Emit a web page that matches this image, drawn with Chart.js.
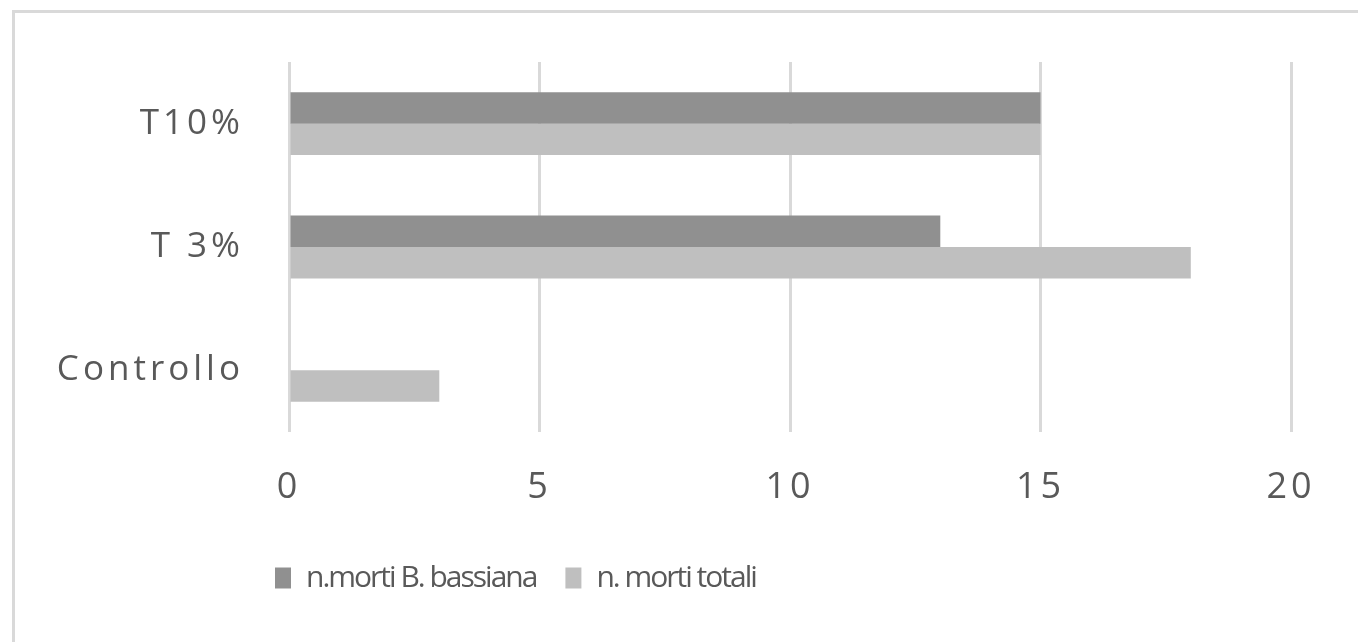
<!DOCTYPE html>
<html lang="it">
<head>
<meta charset="utf-8">
<title>Mortalità</title>
<script src="https://cdn.jsdelivr.net/npm/chart.js@4"></script>
<style>
    html, body { margin: 0; padding: 0; background: #ffffff; overflow: hidden; }
    #contenedor { position: relative; width: 1358px; height: 642px; }
    #marco {
        position: absolute; left: 12px; top: 10px; right: -10px; bottom: -10px;
        border-top: 3px solid #d9d9d9; border-left: 3px solid #d9d9d9;
        pointer-events: none;
    }
</style>
</head>
<body>
<div id="contenedor">
    <canvas id="grafico" width="1358" height="642"></canvas>
    <div id="marco"></div>
</div>
<script>
// Datos del gráfico
const categorias = ['T10%', 'T 3%', 'Controllo'];
const mortiBassiana = [15, 13, 0];
const mortiTotali = [15, 18, 3];
const ticksX = [0, 5, 10, 15, 20];

const colorTexto = '#595959';

// espaciado de letras: negativo para la leyenda, positivo para las etiquetas de los ejes
const espaciado = {
    id: 'espaciado',
    beforeUpdate(chart) { chart.ctx.letterSpacing = '-2px'; },
    beforeDraw(chart) { chart.ctx.letterSpacing = '-2px'; },
    afterDatasetsDraw(chart) { chart.ctx.letterSpacing = '4px'; },
    afterDraw(chart) { chart.ctx.letterSpacing = '0px'; }
};

// mover la leyenda hacia la izquierda, como en el original
const posLeyenda = {
    id: 'posLeyenda',
    afterLayout(chart) {
        if (chart.legend) chart.legend.left = 246;
    }
};

const ctx = document.getElementById('grafico').getContext('2d');

new Chart(ctx, {
    type: 'bar',
    data: {
        labels: categorias,
        datasets: [
            {
                label: 'n.morti B. bassiana',
                data: mortiBassiana,
                backgroundColor: '#909090',
                borderWidth: 0,
                categoryPercentage: 0.51,
                barPercentage: 1
            },
            {
                label: 'n. morti totali',
                data: mortiTotali,
                backgroundColor: '#bfbfbf',
                borderWidth: 0,
                categoryPercentage: 0.51,
                barPercentage: 1
            }
        ]
    },
    options: {
        indexAxis: 'y',
        responsive: false,
        devicePixelRatio: 1,
        animation: false,
        layout: {
            padding: { left: 0, right: 67, top: 62, bottom: 39 }
        },
        scales: {
            x: {
                min: 0,
                max: 20,
                afterBuildTicks: function (scale) {
                    scale.ticks = ticksX.map(v => ({ value: v }));
                },
                afterFit: function (scale) { scale.height = 102; },
                grid: { color: '#d9d9d9', lineWidth: 3, drawTicks: false },
                border: { display: false },
                ticks: {
                    z: 1,
                    padding: 34,
                    color: colorTexto,
                    font: { family: 'Open Sans', size: 36 }
                }
            },
            y: {
                afterFit: function (scale) {
                    scale.width = 289;
                    // sin margen extra arriba/abajo por las etiquetas
                    scale.paddingTop = 0;
                    scale.paddingBottom = 0;
                },
                grid: { display: false, drawTicks: false },
                border: { display: false },
                ticks: {
                    z: 1,
                    padding: 45,
                    color: colorTexto,
                    font: { family: 'Open Sans', size: 35 }
                }
            }
        },
        plugins: {
            legend: {
                position: 'bottom',
                align: 'start',
                labels: {
                    boxWidth: 16,
                    boxHeight: 21,
                    padding: 29,
                    color: colorTexto,
                    font: { family: 'Open Sans', size: 30 }
                }
            },
            tooltip: { enabled: false }
        }
    },
    plugins: [espaciado, posLeyenda]
});
</script>
</body>
</html>
